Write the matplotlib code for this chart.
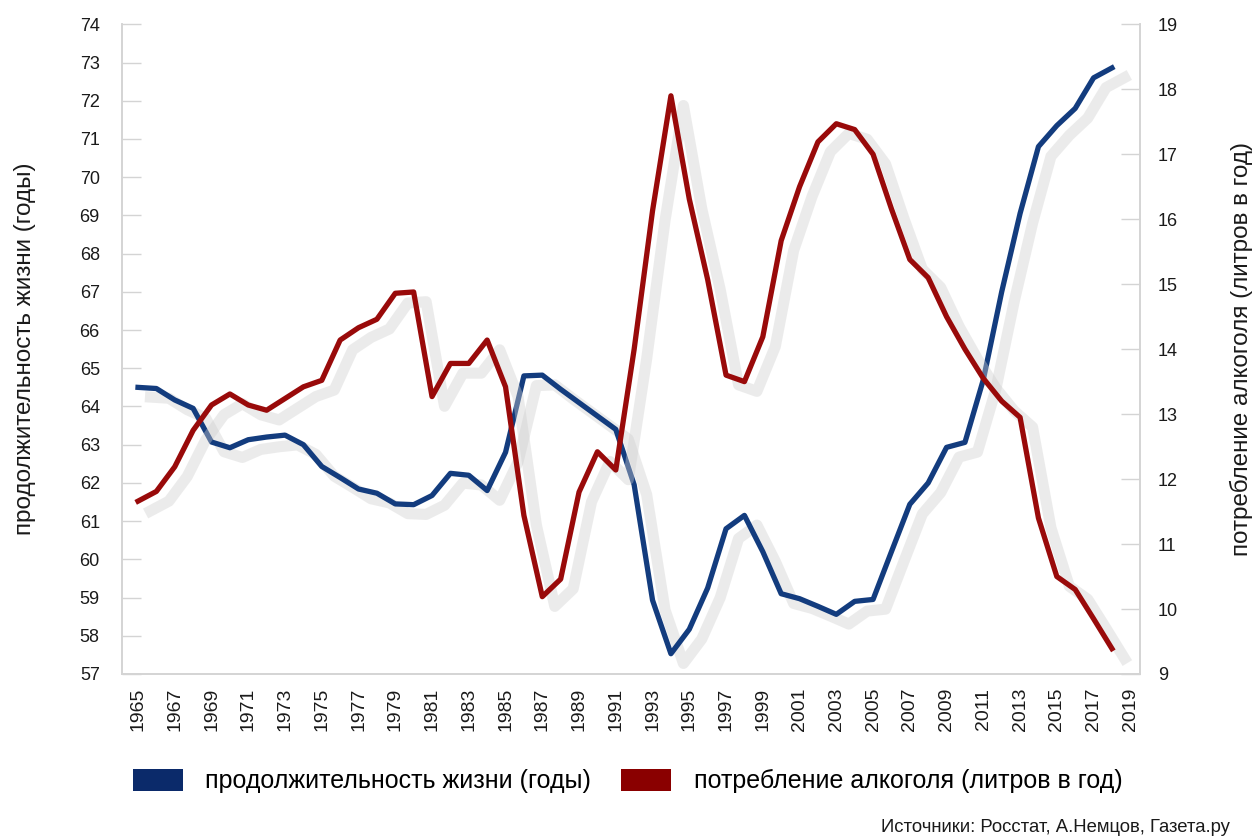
import matplotlib.pyplot as plt
import matplotlib.patheffects as pe
from matplotlib.patches import Patch

years = list(range(1965, 2019))

# продолжительность жизни (годы), левая ось
life = [64.5, 64.47, 64.17, 63.95, 63.07, 62.92, 63.13, 63.2, 63.25, 63.0,
        62.43, 62.14, 61.84, 61.73, 61.45, 61.43, 61.67, 62.25, 62.2, 61.8,
        62.8, 64.8, 64.82, 64.45, 64.1, 63.75, 63.4, 61.95, 58.93, 57.53,
        58.17, 59.25, 60.8, 61.15, 60.2, 59.1, 58.97, 58.77, 58.56, 58.9,
        58.95, 60.2, 61.44, 62.0, 62.93, 63.06, 64.7, 67.0, 69.05, 70.8,
        71.35, 71.8, 72.6, 72.86]

# потребление алкоголя (литров в год), правая ось
alcohol = [11.66, 11.81, 12.19, 12.75, 13.14, 13.31, 13.14, 13.06, 13.24, 13.42,
           13.52, 14.14, 14.33, 14.46, 14.86, 14.88, 13.27, 13.78, 13.78, 14.14,
           13.42, 11.44, 10.19, 10.46, 11.8, 12.42, 12.14, 14.0, 16.13, 17.9,
           16.31, 15.07, 13.6, 13.5, 14.19, 15.67, 16.5, 17.19, 17.47, 17.38,
           17.0, 16.16, 15.38, 15.1, 14.5, 14.0, 13.55, 13.2, 12.95, 11.4,
           10.5, 10.3, 9.85, 9.39]

left_ticks = list(range(57, 75))
right_ticks = list(range(9, 20))
year_ticks = list(range(1965, 2020, 2))

blue = "#133c7e"
red = "#990a0a"
grid_c = "#d4d4d4"
txt_c = "#1a1a1a"

plt.rcParams['font.family'] = ['Liberation Sans', 'DejaVu Sans']

fig = plt.figure(figsize=(12.54, 8.39), dpi=100)
ax = fig.add_axes([0.0973, 0.1967, 0.8117, 0.7743])
ax2 = ax.twinx()

# мягкая серая тень под линиями
shadow = [pe.SimpleLineShadow(offset=(9, -7), shadow_color="#cfcfcf", alpha=0.4, linewidth=8),
          pe.Normal()]

ax.plot(years, life, color=blue, lw=3.8, zorder=3, path_effects=shadow)
ax2.plot(years, alcohol, color=red, lw=3.8, zorder=3, path_effects=shadow)

ax.set_xlim(1964.13, 2019.52)
ax.set_ylim(57, 74)
ax2.set_ylim(9, 19)

ax.set_yticks(left_ticks)
ax2.set_yticks(right_ticks)
ax.set_xticks(year_ticks)
ax.set_xticklabels([str(y) for y in year_ticks], rotation=90)

for a in (ax, ax2):
    for s in a.spines.values():
        s.set_color(grid_c)
        s.set_linewidth(1.2)
    a.spines["top"].set_visible(False)

ax.tick_params(axis="y", direction="in", length=14, width=1, color=grid_c,
               labelsize=13, pad=16, labelcolor=txt_c)
ax2.tick_params(axis="y", direction="in", length=14, width=1, color=grid_c,
                labelsize=13, pad=13, labelcolor=txt_c)
ax.tick_params(axis="x", length=0, labelsize=14, pad=10, labelcolor=txt_c)

ax.set_ylabel("продолжительность жизни (годы)", fontsize=17.5, labelpad=31, color=txt_c)
ax2.set_ylabel("потребление алкоголя (литров в год)", fontsize=17.5, labelpad=37, color=txt_c)

handles = [Patch(facecolor="#0b2a6a", label="продолжительность жизни (годы)"),
           Patch(facecolor="#8a0000", label="потребление алкоголя (литров в год)")]
fig.legend(handles=handles, loc="center left", bbox_to_anchor=(0.106, 0.069),
           ncol=2, frameon=False, prop={"size": 18},
           handlelength=2.0, handleheight=1.0, handletextpad=0.9, columnspacing=1.2,
           borderpad=0, borderaxespad=0)

fig.text(0.981, 0.004, "Источники: Росстат, А.Немцов, Газета.ру", ha="right", va="bottom",
         fontsize=13.3, color=txt_c)

fig.savefig("out.png", dpi=100)
